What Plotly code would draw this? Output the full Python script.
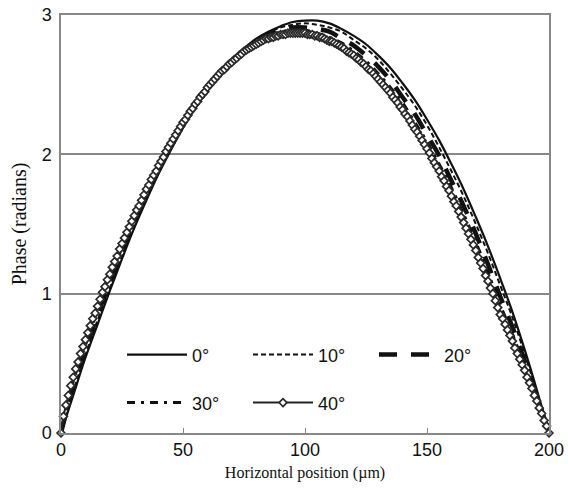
import plotly.graph_objects as go

# Horizontal position (µm)
x_coarse = list(range(0, 201, 5))
x_fine = list(range(0, 201))

# Phase (radians)
phase_0 = [0, 0.27, 0.54, 0.78, 1.02, 1.25, 1.47, 1.67, 1.86, 2.03, 2.19, 2.33, 2.46, 2.58, 2.68,
           2.76, 2.83, 2.88, 2.92, 2.95, 2.96, 2.96, 2.94, 2.90, 2.85, 2.79, 2.71, 2.62, 2.51, 2.39,
           2.25, 2.10, 1.93, 1.75, 1.55, 1.34, 1.11, 0.87, 0.60, 0.31, 0]
phase_10 = [0, 0.30, 0.56, 0.81, 1.04, 1.27, 1.49, 1.69, 1.87, 2.04, 2.20, 2.34, 2.47, 2.58, 2.67,
            2.76, 2.82, 2.87, 2.91, 2.93, 2.94, 2.93, 2.91, 2.88, 2.82, 2.76, 2.68, 2.58, 2.47, 2.35,
            2.21, 2.05, 1.88, 1.70, 1.50, 1.29, 1.06, 0.83, 0.57, 0.29, 0]
phase_20 = [0, 0.34, 0.60, 0.85, 1.08, 1.30, 1.51, 1.71, 1.89, 2.06, 2.21, 2.35, 2.47, 2.58, 2.67,
            2.75, 2.81, 2.86, 2.89, 2.91, 2.91, 2.90, 2.88, 2.83, 2.78, 2.71, 2.63, 2.53, 2.41, 2.29,
            2.14, 1.99, 1.81, 1.63, 1.43, 1.21, 0.98, 0.76, 0.52, 0.27, 0]
phase_30 = [0, 0.37, 0.63, 0.88, 1.11, 1.33, 1.54, 1.73, 1.90, 2.07, 2.22, 2.35, 2.47, 2.58, 2.67,
            2.74, 2.80, 2.85, 2.88, 2.89, 2.89, 2.87, 2.84, 2.80, 2.74, 2.67, 2.58, 2.48, 2.37, 2.23,
            2.09, 1.93, 1.76, 1.57, 1.37, 1.15, 0.92, 0.71, 0.48, 0.25, 0]
phase_40 = [0.00, 0.12, 0.20, 0.27, 0.34, 0.40, 0.46, 0.51, 0.57, 0.62,
            0.67, 0.72, 0.77, 0.82, 0.86, 0.91, 0.96, 1.01, 1.05, 1.10,
            1.14, 1.19, 1.23, 1.27, 1.32, 1.36, 1.40, 1.44, 1.48, 1.52,
            1.56, 1.60, 1.63, 1.67, 1.71, 1.75, 1.78, 1.82, 1.85, 1.88,
            1.92, 1.95, 1.98, 2.02, 2.05, 2.08, 2.11, 2.14, 2.17, 2.20,
            2.23, 2.25, 2.28, 2.31, 2.33, 2.36, 2.38, 2.41, 2.43, 2.45,
            2.48, 2.50, 2.52, 2.54, 2.56, 2.58, 2.60, 2.61, 2.63, 2.65,
            2.66, 2.68, 2.69, 2.71, 2.72, 2.74, 2.75, 2.76, 2.77, 2.78,
            2.79, 2.80, 2.81, 2.82, 2.83, 2.83, 2.84, 2.84, 2.85, 2.85,
            2.86, 2.86, 2.86, 2.87, 2.87, 2.87, 2.87, 2.87, 2.87, 2.87,
            2.87, 2.86, 2.86, 2.86, 2.85, 2.85, 2.84, 2.84, 2.83, 2.82,
            2.81, 2.81, 2.80, 2.79, 2.78, 2.77, 2.76, 2.74, 2.73, 2.72,
            2.71, 2.69, 2.68, 2.66, 2.65, 2.63, 2.61, 2.60, 2.58, 2.56,
            2.54, 2.52, 2.50, 2.48, 2.46, 2.44, 2.41, 2.39, 2.37, 2.34,
            2.32, 2.29, 2.27, 2.24, 2.21, 2.18, 2.16, 2.13, 2.10, 2.07,
            2.04, 2.01, 1.97, 1.94, 1.91, 1.88, 1.84, 1.81, 1.77, 1.74,
            1.70, 1.66, 1.63, 1.59, 1.55, 1.51, 1.47, 1.43, 1.39, 1.35,
            1.31, 1.26, 1.22, 1.18, 1.13, 1.09, 1.04, 1.00, 0.95, 0.90,
            0.85, 0.82, 0.78, 0.74, 0.70, 0.66, 0.61, 0.57, 0.53, 0.49,
            0.45, 0.40, 0.36, 0.32, 0.27, 0.23, 0.18, 0.14, 0.09, 0.05,
            0.00]

x_ticks = [0, 50, 100, 150, 200]
y_ticks = [0, 1, 2, 3]

fig = go.Figure()
fig.add_trace(go.Scatter(x=x_coarse, y=phase_0, mode="lines", name="0°",
                         line=dict(color="#111111", width=2.2, shape="spline"),
                         legend="legend"))
fig.add_trace(go.Scatter(x=x_coarse, y=phase_10, mode="lines", name="10°",
                         line=dict(color="#111111", width=2, dash="5px,3px", shape="spline"),
                         legend="legend"))
fig.add_trace(go.Scatter(x=x_coarse, y=phase_20, mode="lines", name="20°",
                         line=dict(color="#111111", width=4.5, dash="18px,14px", shape="spline"),
                         legend="legend"))
fig.add_trace(go.Scatter(x=x_coarse, y=phase_30, mode="lines", name="30°",
                         line=dict(color="#111111", width=3, dash="8px,6px,3px,6px", shape="spline"),
                         legend="legend2"))
fig.add_trace(go.Scatter(x=x_fine, y=phase_40, mode="lines+markers", name="40°",
                         line=dict(color="#222222", width=2),
                         marker=dict(symbol="diamond", size=6, color="white",
                                     line=dict(color="#2a2a2a", width=1.7)),
                         cliponaxis=False, legend="legend2"))

axis_font = dict(family="Liberation Sans, Arial, sans-serif", size=18, color="#111111")
xtitle_font = dict(family="Liberation Serif, Times New Roman, serif", size=16, color="#111111")
ytitle_font = dict(family="Liberation Serif, Times New Roman, serif", size=20, color="#111111")
legend_font = dict(family="Liberation Sans, Arial, sans-serif", size=18, color="#111111")

fig.update_layout(
    width=568, height=495,
    margin=dict(l=61, r=19, t=15, b=62),
    plot_bgcolor="white", paper_bgcolor="white",
    xaxis=dict(range=[0, 200], tickvals=x_ticks, ticks="inside", ticklen=5, tickcolor="#888888",
               showline=True, linecolor="#888888", linewidth=1.5, mirror=True,
               showgrid=False, zeroline=False, tickfont=axis_font, automargin=False,
               ticklabeloverflow="allow",
               title=dict(text="Horizontal position (µm)", font=xtitle_font, standoff=7)),
    yaxis=dict(range=[0, 3], tickvals=y_ticks, ticks="", showline=True, linecolor="#888888",
               linewidth=1.5, mirror=True, showgrid=True, gridcolor="#888888", gridwidth=1.5,
               zeroline=False, tickfont=axis_font, automargin=False, ticklabelstandoff=4,
               ticklabeloverflow="allow",
               title=dict(text="Phase (radians)", font=ytitle_font, standoff=10)),
    legend=dict(orientation="h", x=0.125, y=0.187, xanchor="left", yanchor="middle",
                bgcolor="rgba(0,0,0,0)", font=legend_font,
                entrywidth=51, entrywidthmode="pixels", itemwidth=60, traceorder="normal"),
    legend2=dict(orientation="h", x=0.125, y=0.072, xanchor="left", yanchor="middle",
                 bgcolor="rgba(0,0,0,0)", font=legend_font,
                 entrywidth=51, entrywidthmode="pixels", itemwidth=60, traceorder="normal"),
)

# remove the default page margin so the figure sits at the window's top-left corner
fig.write_html("out.html", config={"displayModeBar": False},
               post_script="document.body.style.margin='0';")
